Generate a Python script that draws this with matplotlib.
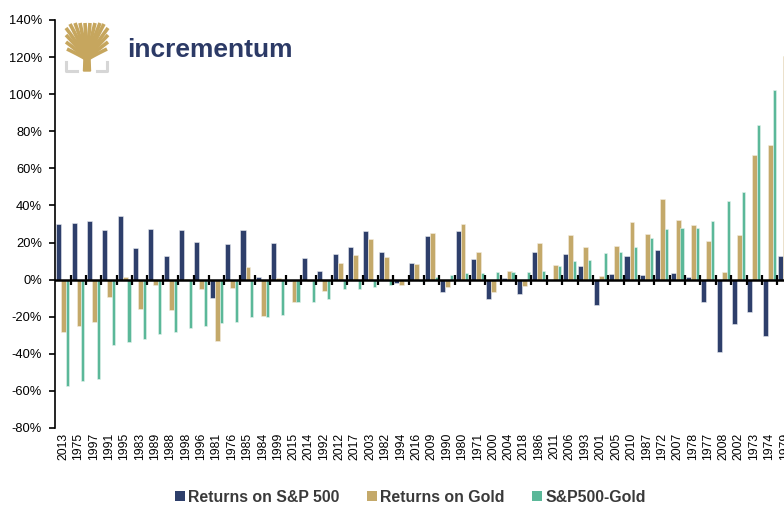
import numpy as np
import matplotlib
matplotlib.use("Agg")
import matplotlib.pyplot as plt
from matplotlib.patches import Patch, Polygon
from matplotlib.ticker import FuncFormatter

plt.rcParams['font.family'] = ['Liberation Sans', 'DejaVu Sans']

years = ["2013", "1975", "1997", "1991", "1995", "1983", "1989", "1988", "1998", "1996",
         "1981", "1976", "1985", "1984", "1999", "2015", "2014", "1992", "2012", "2017",
         "2003", "1982", "1994", "2016", "2009", "1990", "1980", "1971", "2000", "2004",
         "2018", "1986", "2011", "2006", "1993", "2001", "2005", "2010", "1987", "1972",
         "2007", "1978", "1977", "2008", "2002", "1973", "1974", "1979"]

sp500 = [29.8, 30.7, 31.4, 26.6, 34.3, 17.2, 27.1, 12.7, 26.9, 20.4,
         -10.1, 19.0, 26.6, 1.4, 19.5, -0.7, 11.5, 4.7, 13.6, 17.8,
         26.4, 14.9, -2.0, 8.8, 23.7, -6.9, 26.2, 11.1, -10.6, 0.7,
         -7.5, 14.8, 0.0, 13.8, 7.2, -13.7, 2.8, 12.9, 2.3, 16.0,
         3.7, 1.4, -11.9, -39.0, -23.9, -17.6, -30.4, 12.6]

gold = [-28.3, -24.8, -22.9, -9.2, 1.2, -15.7, -2.7, -16.4, 0.6, -5.2,
        -33.3, -4.5, 6.6, -19.5, 0.8, -12.1, -1.0, -6.3, 8.8, 13.1,
        21.9, 12.0, -2.7, 8.3, 25.3, -4.2, 29.8, 14.9, -6.5, 4.6,
        -3.3, 19.6, 8.0, 24.0, 17.8, 1.8, 18.1, 30.9, 24.8, 43.5,
        32.0, 29.4, 20.6, 4.1, 24.2, 67.0, 72.8, 120.6]

spread = [-57.2, -54.7, -53.4, -35.1, -33.5, -32.2, -29.2, -28.4, -26.3, -24.8,
          -23.4, -22.9, -20.3, -20.3, -18.9, -12.0, -11.9, -10.5, -4.9, -4.9,
          -4.2, -3.1, -0.7, -0.5, 1.5, 2.5, 3.4, 3.4, 3.9, 3.9,
          4.1, 4.6, 7.5, 10.0, 10.6, 14.2, 14.7, 17.6, 22.3, 27.3,
          27.7, 27.8, 31.4, 42.2, 47.1, 83.4, 102.1, 108.0]

yticks = list(range(-80, 141, 20))

NAVY = "#2e3f6b"
GOLD = "#c4a96a"
GREEN = "#5bb899"

W, H = 784, 509
fig = plt.figure(figsize=(W / 100, H / 100), dpi=100)

left_px, right_px = 55.3, 55.3 + 48 * 15.36
top_px, bot_px = 20, 428
ax = fig.add_axes([left_px / W, (H - bot_px) / H, (right_px - left_px) / W, (bot_px - top_px) / H])

n = len(years)
x = np.arange(n)
ax.bar(x - 0.28, sp500, width=0.33, color=NAVY, edgecolor="#e8ebf0", linewidth=0.4, zorder=3)
ax.bar(x + 0.045, gold, width=0.32, color=GOLD, edgecolor="#f3ede0", linewidth=0.4, zorder=3)
ax.bar(x + 0.30, spread, width=0.2, color=GREEN, edgecolor="#e6f4ee", linewidth=0.4, zorder=3)

ax.set_xlim(-0.5, n - 0.5)
ax.set_ylim(-80, 140)
ax.set_yticks(yticks)
ax.yaxis.set_major_formatter(FuncFormatter(lambda v, p: f"{int(v)}%"))
ax.tick_params(axis="y", direction="out", length=4, width=1.2, pad=5.5, labelsize=9.3, colors="black")

ax.set_xticks(x)
ax.set_xticklabels(years, rotation=90, fontsize=8.8)
ax.tick_params(axis="x", length=0, pad=3.3)

for s in ["top", "right", "bottom"]:
    ax.spines[s].set_visible(False)
ax.spines["left"].set_linewidth(1.2)
ax.spines["left"].set_color("black")

ax.axhline(0, color="black", lw=1.8, zorder=4)
bounds = np.arange(n - 1) + 0.5
ax.plot(bounds, np.zeros_like(bounds), linestyle="none", marker="|", markersize=6.5,
        markeredgewidth=1.6, color="black", zorder=5, clip_on=False)

handles = [Patch(facecolor=NAVY, label="Returns on S&P 500"),
           Patch(facecolor=GOLD, label="Returns on Gold"),
           Patch(facecolor=GREEN, label="S&P500-Gold")]
fig.legend(handles=handles, loc="center", bbox_to_anchor=(410.5 / W, 1 - 497 / H), ncol=3,
           frameon=False, prop={"size": 11.4, "weight": "bold"}, handlelength=0.63,
           handleheight=0.63, handletextpad=0.2, columnspacing=1.75, labelcolor="#3a3a3a")

# logo
lax = fig.add_axes([0, 0, 1, 1], zorder=6)
lax.set_xlim(0, W)
lax.set_ylim(H, 0)
lax.axis("off")
LG = "#c6a65e"
base = np.array([87.0, 60.0])
ends = [(66, 28), (66, 35), (66, 42), (67, 49), (70, 24), (75, 23), (80, 23), (85, 23),
        (90, 23), (95, 23), (100, 23), (104, 24), (108, 28), (108, 35), (108, 42), (107, 49)]
t = np.linspace(0, 1, 30)
for ex, ey in ends:
    ctrl = np.array([87 + (ex - 87) * 0.1, ey + (60 - ey) * 0.8])
    pts = ((1 - t) ** 2)[:, None] * base + (2 * (1 - t) * t)[:, None] * ctrl + (t ** 2)[:, None] * np.array([ex, ey])
    lax.plot(pts[:, 0], pts[:, 1], color=LG, lw=2.6, solid_capstyle="butt")
lax.add_patch(Polygon([(83.5, 71), (90.5, 71), (90, 58), (95, 50), (79, 50), (84, 58)],
                      closed=True, color=LG))
GR = "#d6d6d6"
lax.plot([66.5, 66.5, 77], [62, 71, 71], color=GR, lw=2.2)
lax.plot([97, 107.5, 107.5], [71, 71, 62], color=GR, lw=2.2)
lax.text(127, 57, "incrementum", fontsize=19, fontweight="bold", color="#2c3a66",
         va="baseline", ha="left")

fig.savefig("out.png", dpi=100)
